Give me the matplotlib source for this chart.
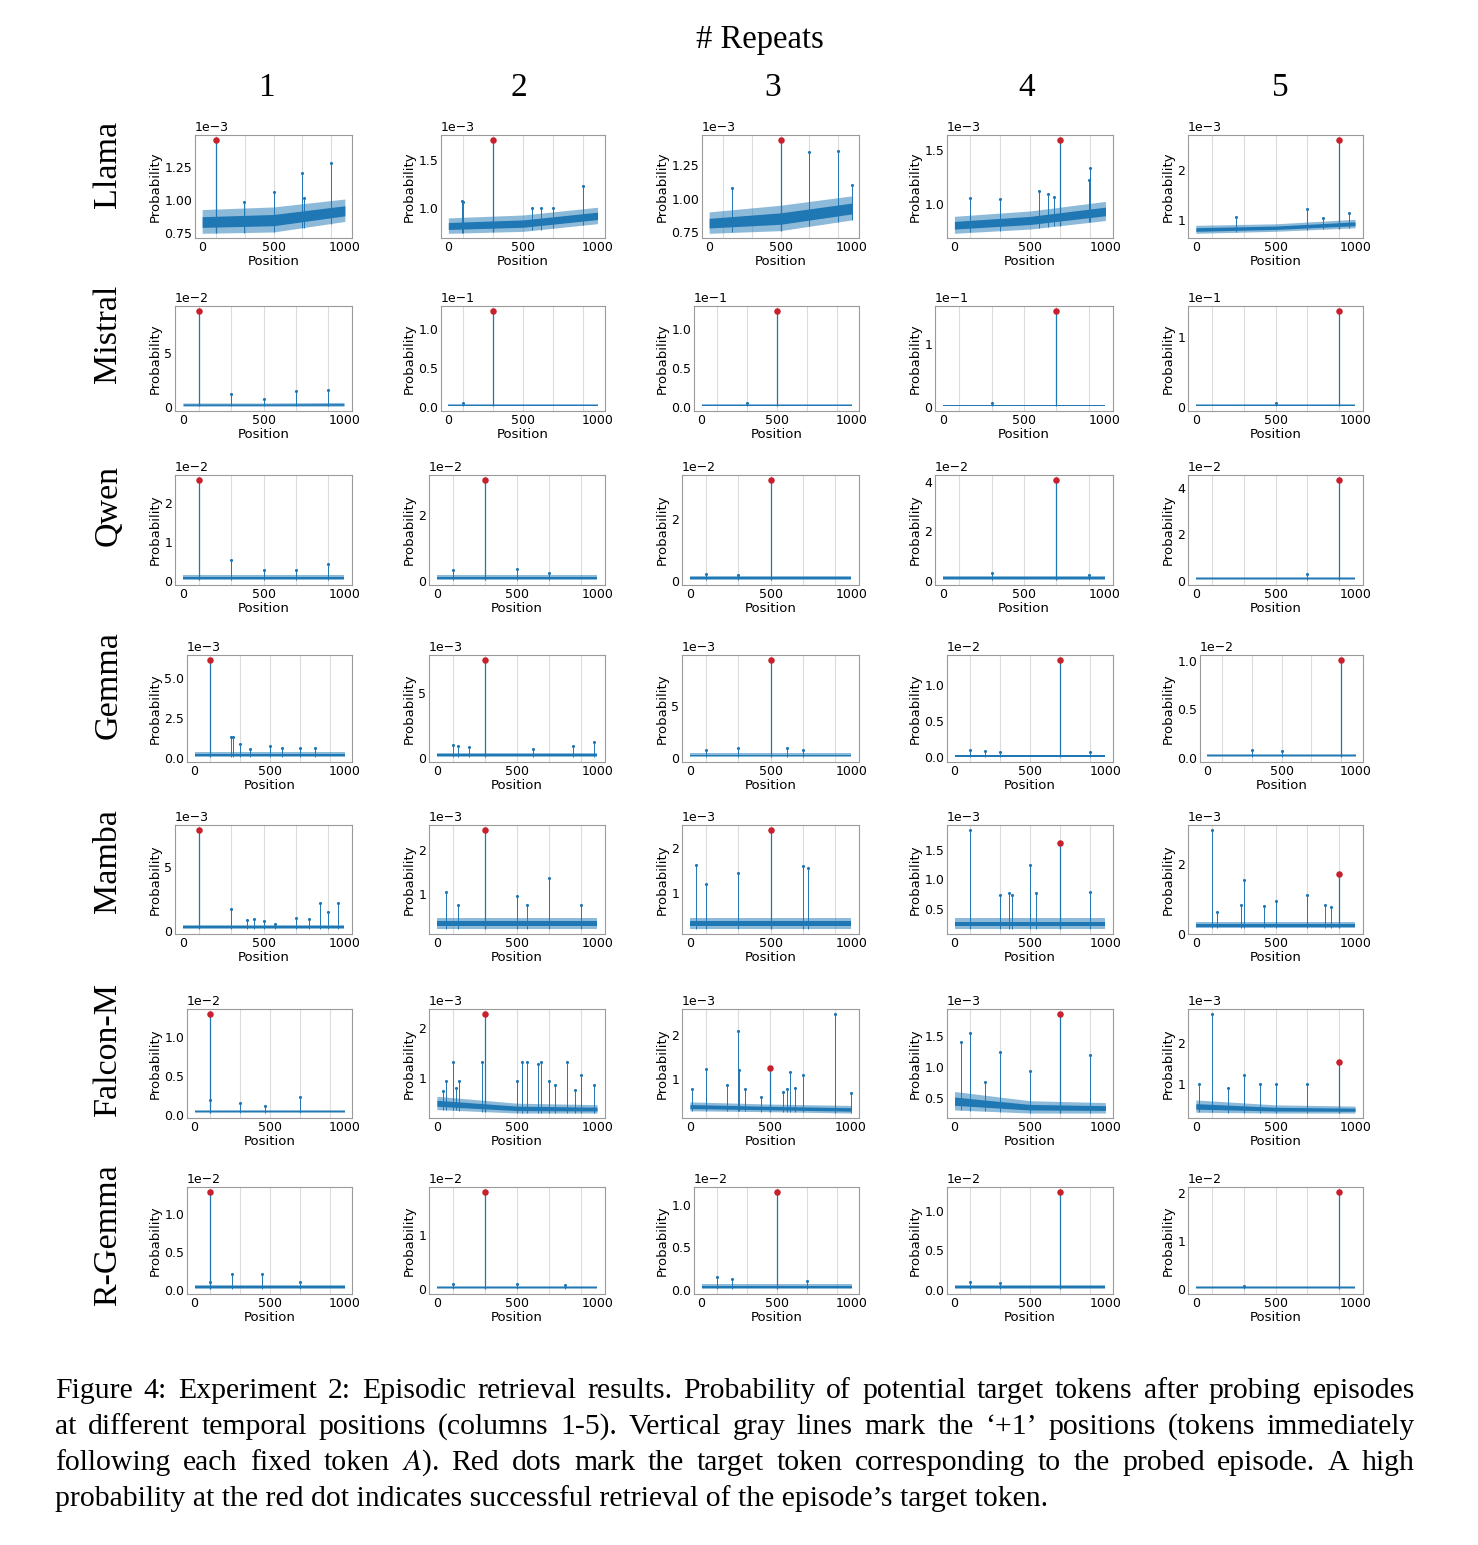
import matplotlib
matplotlib.use('Agg')
import matplotlib.pyplot as plt
import numpy as np

W, H = 1478, 1545

models = ['Llama', 'Mistral', 'Qwen', 'Gemma', 'Mamba', 'Falcon-M', 'R-Gemma']
repeats = ['1', '2', '3', '4', '5']
plus_one = [100, 300, 500, 700, 900]      # gray lines: '+1' positions
target_pos = [100, 300, 500, 700, 900]    # probed episode, one per column
band_x = [0, 500, 999]                    # where the noise band edges were read

# power of ten shown above each panel (values below are in these units)
scale = [
    [1e-3, 1e-3, 1e-3, 1e-3, 1e-3],
    [1e-2, 1e-1, 1e-1, 1e-1, 1e-1],
    [1e-2, 1e-2, 1e-2, 1e-2, 1e-2],
    [1e-3, 1e-3, 1e-3, 1e-2, 1e-2],
    [1e-3, 1e-3, 1e-3, 1e-3, 1e-3],
    [1e-2, 1e-3, 1e-3, 1e-3, 1e-3],
    [1e-2, 1e-2, 1e-2, 1e-2, 1e-2],
]

# probability at the red dot
target_prob = [
    [1.46, 1.71, 1.44, 1.60, 2.61],
    [8.90, 1.23, 1.24, 1.54, 1.37],
    [2.58, 3.05, 3.28, 4.08, 4.35],
    [6.15, 7.60, 9.40, 1.35, 1.01],
    [7.90, 2.45, 2.40, 1.62, 1.72],
    [1.30, 2.29, 1.26, 1.86, 1.53],
    [1.30, 1.80, 1.15, 1.25, 2.02],
]

# lower / upper edge of the noisy baseline at band_x
band_lo = [
    [[0.75, 0.76, 0.84], [0.74, 0.76, 0.84], [0.74, 0.76, 0.84], [0.72, 0.76, 0.84], [0.74, 0.78, 0.85]],
    [[0.10, 0.10, 0.10], [0.005, 0.005, 0.005], [0.005, 0.005, 0.005], [0.005, 0.005, 0.005], [0.005, 0.005, 0.005]],
    [[0.03, 0.03, 0.03], [0.03, 0.03, 0.03], [0.03, 0.03, 0.03], [0.03, 0.03, 0.03], [0.03, 0.03, 0.03]],
    [[0.05, 0.05, 0.05], [0.05, 0.05, 0.05], [0.05, 0.05, 0.05], [0.005, 0.005, 0.005], [0.005, 0.005, 0.005]],
    [[0.18, 0.18, 0.18], [0.20, 0.20, 0.20], [0.20, 0.20, 0.20], [0.15, 0.15, 0.15], [0.17, 0.17, 0.17]],
    [[0.03, 0.03, 0.03], [0.35, 0.28, 0.28], [0.30, 0.28, 0.25], [0.30, 0.25, 0.25], [0.30, 0.28, 0.28]],
    [[0.005, 0.005, 0.005], [0.005, 0.005, 0.005], [0.005, 0.005, 0.005], [0.005, 0.005, 0.005], [0.005, 0.005, 0.005]],
]
band_hi = [
    [[0.93, 0.95, 1.01], [0.90, 0.93, 1.01], [0.90, 0.95, 1.02], [0.88, 0.93, 1.02], [0.90, 0.93, 1.02]],
    [[0.40, 0.40, 0.45], [0.03, 0.03, 0.03], [0.03, 0.03, 0.03], [0.03, 0.03, 0.03], [0.03, 0.03, 0.03]],
    [[0.15, 0.15, 0.15], [0.18, 0.18, 0.18], [0.15, 0.15, 0.15], [0.18, 0.18, 0.18], [0.18, 0.18, 0.18]],
    [[0.35, 0.35, 0.35], [0.40, 0.40, 0.40], [0.40, 0.40, 0.40], [0.04, 0.04, 0.04], [0.04, 0.04, 0.04]],
    [[0.48, 0.48, 0.48], [0.45, 0.45, 0.45], [0.45, 0.45, 0.45], [0.33, 0.33, 0.33], [0.33, 0.33, 0.33]],
    [[0.07, 0.07, 0.07], [0.62, 0.48, 0.45], [0.50, 0.45, 0.42], [0.60, 0.45, 0.42], [0.60, 0.48, 0.45]],
    [[0.06, 0.06, 0.06], [0.06, 0.06, 0.06], [0.06, 0.06, 0.06], [0.06, 0.06, 0.06], [0.08, 0.08, 0.08]],
]

# other spikes sticking out of the baseline: (position, probability)
spikes = [
    [[(290, 0.99), (505, 1.06), (700, 1.21), (710, 1.02), (900, 1.28)],
     [(90, 1.07), (100, 1.06), (560, 1.0), (620, 1.0), (700, 1.0), (900, 1.23)],
     [(160, 1.08), (700, 1.35), (900, 1.355), (1000, 1.10)],
     [(100, 1.05), (300, 1.04), (560, 1.12), (620, 1.09), (660, 1.06), (890, 1.22), (900, 1.33)],
     [(250, 1.06), (700, 1.22), (800, 1.05), (960, 1.15)]],
    [[(300, 1.19), (500, 0.77), (700, 1.49), (900, 1.58)],
     [(100, 0.05)], [(300, 0.05)], [(300, 0.05)], [(500, 0.05)]],
    [[(300, 0.55), (500, 0.28), (700, 0.28), (900, 0.45)],
     [(100, 0.34), (500, 0.37), (700, 0.25)],
     [(100, 0.22), (300, 0.2)],
     [(300, 0.3), (900, 0.25)],
     [(700, 0.3)]],
    [[(245, 1.3), (255, 1.3), (300, 0.87), (370, 0.59), (500, 0.72), (580, 0.65), (700, 0.65), (800, 0.65)],
     [(100, 1.0), (130, 0.9), (200, 0.8), (600, 0.7), (850, 0.9), (980, 1.2)],
     [(100, 0.7), (300, 0.9), (600, 0.9), (700, 0.7)],
     [(100, 0.1), (200, 0.09), (300, 0.08), (900, 0.08)],
     [(300, 0.08), (500, 0.07)]],
    [[(300, 1.72), (400, 0.89), (440, 1.0), (500, 0.83), (570, 0.57), (700, 1.04), (780, 0.94), (850, 2.2), (900, 1.54), (960, 2.2)],
     [(60, 1.05), (130, 0.75), (500, 0.95), (560, 0.75), (700, 1.37), (900, 0.75)],
     [(40, 1.63), (100, 1.2), (300, 1.44), (700, 1.6), (730, 1.56)],
     [(100, 1.84), (300, 0.73), (360, 0.76), (380, 0.73), (500, 1.24), (540, 0.76), (900, 0.79)],
     [(100, 2.97), (130, 0.62), (280, 0.83), (300, 1.54), (430, 0.8), (500, 0.95), (700, 1.11), (810, 0.83), (850, 0.78)]],
    [[(100, 0.2), (300, 0.16), (470, 0.12), (700, 0.23)],
     [(40, 0.72), (60, 0.93), (100, 1.32), (120, 0.78), (140, 0.93), (280, 1.31), (500, 0.92), (530, 1.32),
      (565, 1.32), (630, 1.28), (650, 1.32), (700, 0.94), (740, 0.85), (810, 1.31), (860, 0.75), (900, 1.05), (980, 0.85)],
     [(10, 0.79), (100, 1.24), (230, 0.88), (300, 2.07), (305, 1.2), (340, 0.79), (440, 0.61), (580, 0.72),
      (600, 0.79), (620, 1.17), (650, 0.8), (700, 1.1), (900, 2.46), (1000, 0.69)],
     [(40, 1.4), (100, 1.55), (200, 0.76), (300, 1.24), (500, 0.93), (900, 1.2)],
     [(20, 1.0), (100, 2.7), (200, 0.9), (300, 1.2), (400, 1.0), (500, 1.0), (700, 1.0)]],
    [[(100, 0.1), (250, 0.21), (450, 0.2), (700, 0.1)],
     [(100, 0.1), (500, 0.1), (800, 0.08)],
     [(100, 0.15), (200, 0.12), (700, 0.1)],
     [(100, 0.1), (300, 0.08)],
     [(300, 0.08)]],
]

yticks = [
    [[0.75, 1.0, 1.25], [1.0, 1.5], [0.75, 1.0, 1.25], [1.0, 1.5], [1, 2]],
    [[0, 5], [0, 0.5, 1.0], [0, 0.5, 1.0], [0, 1], [0, 1]],
    [[0, 1, 2], [0, 2], [0, 2], [0, 2, 4], [0, 2, 4]],
    [[0, 2.5, 5.0], [0, 5], [0, 5], [0, 0.5, 1.0], [0, 0.5, 1.0]],
    [[0, 5], [1, 2], [1, 2], [0.5, 1.0, 1.5], [0, 2]],
    [[0, 0.5, 1.0], [1, 2], [1, 2], [0.5, 1.0, 1.5], [1, 2]],
    [[0, 0.5, 1.0], [0, 1], [0, 0.5, 1.0], [0, 0.5, 1.0], [0, 1, 2]],
]

caption = [
    "Figure 4: Experiment 2: Episodic retrieval results. Probability of potential target tokens after probing episodes",
    "at different temporal positions (columns 1-5). Vertical gray lines mark the \u2018+1\u2019 positions (tokens immediately",
    "following each fixed token $A$). Red dots mark the target token corresponding to the probed episode. A high",
    "probability at the red dot indicates successful retrieval of the episode\u2019s target token.",
]

plt.rcParams['mathtext.fontset'] = 'stix'
blue = '#1f77b4'
serif = 'Liberation Serif'

# layout in pixels
row_top = [135, 306, 475, 655, 825, 1009, 1187]
row_bot = [238, 411, 585, 762, 934, 1118, 1294]
col_anchor = [164, 418, 671, 924, 1177]   # left edge of y tick labels
col_right = [352, 605, 859, 1113, 1363]
row_label_y = [164, 334, 505, 685, 861, 1049, 1235]
col_head_x = [266, 519, 773, 1027, 1280]

fig = plt.figure(figsize=(W / 100, H / 100), dpi=100)

axes = []
for i, model in enumerate(models):
    for j in range(5):
        s = scale[i][j]
        ax = fig.add_axes([(col_anchor[j] + 30) / W, 1 - row_bot[i] / H,
                           (col_right[j] - col_anchor[j] - 30) / W, (row_bot[i] - row_top[i]) / H])
        for x in plus_one:
            ax.axvline(x, color='#dcdcdc', lw=0.8, zorder=0)
        lo = np.array(band_lo[i][j]) * s
        hi = np.array(band_hi[i][j]) * s
        ax.fill_between(band_x, lo, hi, color=blue, alpha=0.5, lw=0, zorder=2)
        ax.fill_between(band_x, lo + 0.25 * (hi - lo), hi - 0.3 * (hi - lo), color=blue, lw=0, zorder=2)

        sp_x = [p for p, v in spikes[i][j]]
        sp_y = [v * s for p, v in spikes[i][j]]
        ax.vlines(sp_x, np.interp(sp_x, band_x, lo), sp_y, color=blue, lw=0.7, zorder=3)
        ax.plot(sp_x, sp_y, '.', color=blue, ms=2.5, zorder=3)

        tx = target_pos[j]
        ty = target_prob[i][j] * s
        ax.vlines([tx], np.interp([tx], band_x, lo), [ty], color=blue, lw=0.9, zorder=3)
        ax.scatter([tx], [ty], s=22, color='#c8202c', zorder=5, lw=0)

        ax.set_yticks(np.array(yticks[i][j]) * s)
        ax.set_xticks([0, 500, 1000])
        ax.ticklabel_format(axis='y', style='sci', scilimits=(0, 0))
        ax.yaxis.get_offset_text().set_fontsize(9)
        ax.tick_params(length=0, pad=2, labelsize=9)
        ax.set_xlabel('Position', fontsize=9.5, labelpad=1)
        ax.set_ylabel('Probability', fontsize=9.5, labelpad=2)
        for sp in ax.spines.values():
            sp.set_color('#9a9a9a')
            sp.set_linewidth(0.8)
        axes.append((ax, i, j))

# shift each panel so its y tick labels start at the column anchor
fig.canvas.draw()
renderer = fig.canvas.get_renderer()
for ax, i, j in axes:
    y0, y1 = ax.get_ylim()
    w = max(t.get_window_extent(renderer).width
            for loc, t in zip(ax.get_yticks(), ax.get_yticklabels()) if y0 <= loc <= y1)
    left = col_anchor[j] + w + 3
    ax.set_position([left / W, 1 - row_bot[i] / H,
                     (col_right[j] - left) / W, (row_bot[i] - row_top[i]) / H])

fig.text(760 / W, 1 - 40 / H, '# Repeats', family=serif, fontsize=23.5, ha='center', va='center')
for j, r in enumerate(repeats):
    fig.text(col_head_x[j] / W, 1 - 88 / H, r, family=serif, fontsize=24, ha='center', va='center')
for i, model in enumerate(models):
    fig.text(108 / W, 1 - row_label_y[i] / H, model, family=serif, fontsize=24.5,
             rotation=90, ha='center', va='center')

# justified caption
cap_l, cap_r = 55, 1415
cap_fs = 21.4
for k, line in enumerate(caption):
    yb = 1 - (1398 + 36 * k) / H
    if k == len(caption) - 1:
        fig.text(cap_l / W, yb, line, family=serif, fontsize=cap_fs, va='baseline')
        continue
    words = line.split(' ')
    texts = [fig.text(0, yb, wd, family=serif, fontsize=cap_fs, va='baseline') for wd in words]
    widths = [t.get_window_extent(renderer).width for t in texts]
    gap = (cap_r - cap_l - sum(widths)) / (len(words) - 1)
    x = cap_l
    for t, wd in zip(texts, widths):
        t.set_x(x / W)
        x += wd + gap

fig.savefig('out.png', dpi=100)
